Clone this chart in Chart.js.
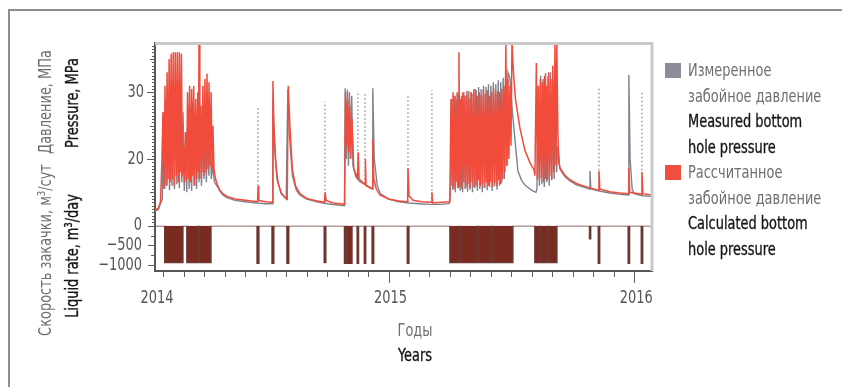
<!DOCTYPE html>
<html lang="ru">
<head>
<meta charset="utf-8">
<title>Забойное давление и скорость закачки</title>
<script src="https://cdn.jsdelivr.net/npm/chart.js@4.4.1/dist/chart.umd.min.js"></script>
<style>
  html, body { margin: 0; padding: 0; background: #fff; }
  #wrap { position: relative; width: 842px; height: 387px; overflow: hidden;
          font-family: "DejaVu Sans Condensed", "Liberation Sans Narrow", sans-serif; }
  #frame { position: absolute; left: 8px; top: 9px; width: 900px; height: 500px;
           border-top: 2px solid #8e8e8e; border-left: 2px solid #8e8e8e; }
  canvas { position: absolute; left: 0; top: 0; }
  .title { position: absolute; white-space: nowrap; font-size: 18px; line-height: 20px;
           transform: translate(-50%, -50%) scaleX(0.8); }
  .rot { transform: translate(-50%, -50%) rotate(-90deg) scaleX(0.8); }
  .ru { color: #6f6f6f; }
  .en { color: #161616; -webkit-text-stroke: 0.35px #161616; }
  #legend { position: absolute; left: 688px; top: 57px; font-size: 18px; line-height: 25.5px;
            white-space: nowrap; transform: scaleX(0.8); transform-origin: 0 0; }
  .swatch { position: absolute; left: 665px; width: 16px; height: 15px; }
</style>
</head>
<body>
<div id="wrap">
  <div id="frame"></div>
  <canvas id="chart" width="842" height="387"></canvas>
  <div class="title rot ru" style="left:45px; top:102px">Давление, МПа</div>
  <div class="title rot en" style="left:72px; top:103px">Pressure, MPa</div>
  <div class="title rot ru" style="left:45px; top:250px">Скорость закачки, м³/сут</div>
  <div class="title rot en" style="left:72px; top:256px">Liquid rate, m³/day</div>
  <div class="title ru" style="left:415px; top:330px">Годы</div>
  <div class="title en" style="left:415px; top:355px">Years</div>
  <div class="swatch" style="top:63px; background:#8b8c97"></div>
  <div class="swatch" style="top:165px; background:#f04f3f"></div>
  <div id="legend">
    <div class="ru">Измеренное</div>
    <div class="ru">забойное давление</div>
    <div class="en">Measured bottom</div>
    <div class="en">hole pressure</div>
    <div class="ru">Рассчитанное</div>
    <div class="ru">забойное давление</div>
    <div class="en">Calculated bottom</div>
    <div class="en">hole pressure</div>
  </div>
</div>
<script>
// time is in months since 1 Jan 2014
const xStart = 0.59;
const xEnd = 24.87;

const monthTicks = [1, 2, 3, 4, 5, 6, 7, 8, 9, 10, 11, 12, 13, 14, 15, 16, 17, 18, 19, 20, 21, 22, 23, 24];
const yearTicks = [xStart, 12, 24];
const yearLabels = ['2014', '2015', '2016'];
const pressureLabels = [20, 30];
const rateTicks = [0, -250, -500, -750, -1000];
const rateLabels = [0, -500, -1000];

// calculated bottom hole pressure, MPa  [month, value]
const calcSeries = [
  [0.59, 12.4], [0.75, 12.6], [0.86, 13.6], [0.93, 20],
  [0.98, 27], [1.03, 15.5], [1.08, 31], [1.13, 16], [1.18, 33], [1.23, 17], [1.28, 35], [1.33, 16.5],
  [1.38, 35.8], [1.43, 17], [1.48, 36], [1.53, 16], [1.58, 36], [1.63, 17.5], [1.68, 36], [1.73, 16.5],
  [1.78, 36], [1.83, 18], [1.88, 35.8], [1.93, 17.5], [1.98, 22], [2.03, 16.5], [2.08, 24], [2.13, 16.8],
  [2.18, 30], [2.23, 17], [2.28, 31], [2.33, 16.5], [2.38, 30.5], [2.43, 17.5], [2.48, 31], [2.53, 16],
  [2.58, 29], [2.63, 17], [2.68, 30], [2.71, 18], [2.74, 37.5], [2.78, 17], [2.83, 28], [2.88, 18],
  [2.93, 31], [2.98, 17.5], [3.03, 32], [3.08, 18], [3.13, 32.8], [3.18, 18.5], [3.23, 31.5], [3.28, 19],
  [3.33, 30], [3.38, 18.5], [3.42, 25], [3.47, 18.5], [3.55, 17], [3.65, 16], [3.76, 15.3], [3.9, 14.8],
  [4.1, 14.4], [4.5, 14.0], [5.0, 13.8], [5.6, 13.6], [5.63, 16], [5.66, 13.8], [6.0, 13.6], [6.32, 13.5],
  [6.35, 31.7], [6.4, 25], [6.5, 19], [6.6, 16.5], [6.75, 15], [6.95, 14.2], [7.05, 14.0], [7.1, 31],
  [7.18, 25], [7.3, 18.5], [7.45, 16], [7.67, 14.8], [8.0, 14.1], [8.5, 13.7], [8.87, 13.5], [8.9, 15],
  [8.95, 13.8], [9.3, 13.4], [9.85, 13.2], [9.9, 30], [9.95, 22], [10.0, 29], [10.05, 21], [10.1, 28],
  [10.15, 20], [10.21, 26], [10.3, 18.5], [10.48, 17.2], [10.52, 21], [10.56, 17], [10.85, 16.2], [10.87, 20],
  [10.9, 16], [11.2, 15.5], [11.23, 23], [11.28, 17], [11.4, 15.5], [11.58, 14.6], [12.0, 14.0], [12.5, 13.7],
  [12.93, 13.6], [12.95, 18.6], [13.0, 14.5], [13.2, 13.8], [13.6, 13.6], [14.1, 13.5], [14.12, 15], [14.15, 13.4],
  [14.6, 13.5], [14.97, 13.6],
  [15.00, 15.5], [15.05, 29], [15.10, 16], [15.15, 30], [15.20, 15.5], [15.25, 29.5], [15.30, 16.5], [15.35, 30],
  [15.40, 15.8], [15.44, 36], [15.48, 16], [15.53, 29], [15.58, 15.5], [15.63, 30], [15.68, 16.5], [15.73, 29.5],
  [15.78, 15.7], [15.83, 30.2], [15.88, 16.2], [15.93, 29], [15.98, 15.6], [16.03, 30], [16.08, 16.5], [16.13, 29.8],
  [16.18, 15.8], [16.23, 30.5], [16.28, 16], [16.33, 29.5], [16.38, 16.8], [16.43, 30], [16.48, 15.9], [16.53, 29.6],
  [16.58, 16.3], [16.63, 30.4], [16.68, 15.7], [16.73, 29.8], [16.78, 16.5], [16.83, 30.3], [16.88, 16], [16.93, 29.5],
  [16.98, 16.6], [17.03, 30], [17.08, 15.8], [17.13, 30.6], [17.18, 16.4], [17.23, 29.9], [17.28, 16], [17.33, 30.2],
  [17.38, 16.8], [17.43, 30], [17.48, 16.2], [17.53, 30.5], [17.58, 17], [17.63, 31], [17.68, 18], [17.73, 37.5],
  [17.78, 19], [17.83, 32], [17.88, 20], [17.93, 31], [17.98, 22], [18.03, 37.5], [18.10, 33], [18.20, 29],
  [18.42, 24.6], [18.66, 21.3], [18.90, 19.5], [19.10, 18.4],
  [19.15, 17.5], [19.22, 34.4], [19.27, 17], [19.32, 31], [19.37, 16.8], [19.42, 32], [19.47, 17.2], [19.52, 31.5],
  [19.57, 16.5], [19.62, 32.5], [19.67, 17], [19.72, 31], [19.77, 16.8], [19.82, 33], [19.87, 17.5], [19.92, 32],
  [19.97, 17], [20.02, 34], [20.07, 18], [20.13, 37.5], [20.18, 19], [20.22, 37.5], [20.27, 24], [20.32, 19.5],
  [20.37, 18.7], [20.6, 17.6], [20.86, 16.9], [21.2, 16.3], [21.6, 15.9], [22.26, 15.3], [22.28, 18.2], [22.32, 15.5],
  [22.8, 15.1], [23.3, 14.9], [23.72, 14.8], [23.74, 18.7], [23.78, 15], [24.36, 14.7], [24.38, 18], [24.42, 14.8],
  [24.87, 14.6]
];

// measured bottom hole pressure, MPa  [month, value]
const measSeries = [
  [0.59, 12.2], [0.75, 12.4], [0.88, 13.5], [0.95, 14],
  [1.0, 27], [1.06, 15.5], [1.12, 29], [1.18, 16], [1.24, 29.5], [1.30, 15.3], [1.36, 29], [1.42, 16],
  [1.48, 28.5], [1.54, 15.5], [1.60, 29], [1.66, 16.2], [1.72, 28], [1.78, 15.6], [1.84, 28.5], [1.90, 16.5],
  [1.96, 27], [2.02, 15.2], [2.08, 24], [2.14, 15], [2.20, 28], [2.26, 15.5], [2.32, 27.5], [2.38, 15.2],
  [2.44, 28.5], [2.50, 16], [2.56, 27], [2.62, 15.5], [2.68, 28], [2.74, 16.5], [2.80, 26], [2.86, 16],
  [2.92, 25.5], [2.98, 17], [3.04, 26], [3.10, 16.5], [3.16, 25], [3.22, 17.5], [3.28, 25.5], [3.34, 17],
  [3.40, 19], [3.50, 16.5], [3.65, 15.8], [3.76, 15.2], [3.90, 14.6], [4.10, 14.2], [4.50, 13.8], [5.00, 13.6],
  [5.58, 13.4], [6.00, 13.3], [6.32, 13.3], [6.35, 29], [6.42, 22], [6.55, 17], [6.75, 14.8], [7.00, 14.0],
  [7.08, 30.5], [7.15, 24], [7.30, 17.5], [7.50, 15.3], [7.67, 14.6], [8.00, 14.0], [8.50, 13.6], [9.00, 13.3],
  [9.50, 13.1], [9.85, 13.0], [9.88, 30.6], [9.94, 20], [9.99, 30.4], [10.04, 19], [10.09, 30], [10.14, 20],
  [10.20, 29.5], [10.26, 19], [10.40, 17.3], [10.60, 16.6], [10.90, 16.1], [11.20, 15.6], [11.23, 30.6], [11.30, 20],
  [11.45, 16], [11.60, 14.8], [12.00, 14.0], [12.50, 13.6], [13.00, 13.4], [13.50, 13.3], [14.00, 13.2], [14.50, 13.2],
  [14.96, 13.3],
  [15.02, 15], [15.08, 29], [15.14, 15.3], [15.20, 29.5], [15.26, 15], [15.32, 28.8], [15.38, 15.6], [15.44, 29.8],
  [15.50, 15.2], [15.56, 29.5], [15.62, 15], [15.68, 30], [15.74, 15.5], [15.80, 29.6], [15.86, 15.1], [15.92, 30.2],
  [15.98, 15.4], [16.04, 30], [16.10, 15], [16.16, 30.5], [16.22, 15.6], [16.28, 30.3], [16.34, 15.2], [16.40, 30.8],
  [16.46, 15.5], [16.52, 30.5], [16.58, 15], [16.64, 31], [16.70, 15.6], [16.76, 30.8], [16.82, 15.3], [16.88, 31.2],
  [16.94, 15.8], [17.00, 31], [17.06, 15.2], [17.12, 31.5], [17.18, 15.9], [17.24, 31.2], [17.30, 15.4], [17.36, 31.8],
  [17.42, 16], [17.48, 31.5], [17.54, 16.5], [17.60, 32.2], [17.66, 17], [17.72, 32.5], [17.78, 19], [17.83, 33],
  [17.93, 32.1], [18.05, 27], [18.17, 23.1], [18.32, 18.2], [18.50, 16.8], [18.66, 16.1], [19.00, 15.3], [19.20, 15.0],
  [19.25, 15.5], [19.31, 31], [19.37, 16], [19.43, 32.5], [19.49, 16.2], [19.55, 32], [19.61, 15.8], [19.67, 32.9],
  [19.73, 16.5], [19.79, 32.4], [19.85, 16], [19.91, 33], [19.97, 16.8], [20.03, 32], [20.09, 17], [20.15, 31],
  [20.21, 18], [20.27, 22], [20.37, 18.5], [20.60, 17.4], [20.86, 16.7], [21.20, 16.1], [21.60, 15.7], [21.82, 15.5],
  [21.84, 18.2], [21.88, 15.5], [22.30, 15.2], [22.80, 14.9], [23.30, 14.7], [23.72, 14.6], [23.74, 32.6], [23.80, 20],
  [23.90, 15.5], [24.00, 14.8], [24.40, 14.5], [24.87, 14.4]
];

// sparse (dotted) gauge readings during short tests
const spikeTime = [5.62, 8.89, 10.5, 10.85, 12.95, 14.12, 22.28, 24.38];
const spikeLow = [13.6, 13.5, 17, 16.3, 13.6, 13.4, 15.3, 14.7];
const spikeHigh = [28, 28.6, 30, 29.8, 29.6, 30.3, 30.6, 30];

// injection periods: start, end (months), rate m3/day
const injStart = [1.07, 2.15, 2.76, 5.58, 6.31, 7.04, 8.86, 9.85, 9.99, 10.47, 10.82, 11.2,
                  12.92, 15.0, 15.52, 16.4, 17.08, 19.15, 19.43, 19.81, 21.82, 22.25, 23.71, 24.35];
const injEnd = [1.95, 2.70, 3.32, 5.66, 6.39, 7.12, 8.93, 9.95, 10.21, 10.53, 10.88, 11.27,
                12.99, 15.46, 16.34, 17.02, 18.07, 19.37, 19.75, 20.22, 21.87, 22.31, 23.77, 24.41];
const injRate = [-930, -930, -930, -950, -950, -950, -930, -950, -950, -950, -950, -950,
                 -950, -930, -930, -930, -930, -930, -930, -930, -330, -950, -950, -950];

const LABEL_FONT = '18px "DejaVu Sans Condensed", "Liberation Sans Narrow", sans-serif';

const toXY = rows => rows.map(r => ({ x: r[0], y: r[1] }));

const spikeData = [];
spikeTime.forEach((t, i) => {
  spikeData.push({ x: t, y: spikeLow[i] }, { x: t, y: spikeHigh[i] }, { x: t, y: null });
});

const rateData = [{ x: xStart, y: 0 }];
injStart.forEach((s, i) => {
  rateData.push({ x: s, y: 0 }, { x: s, y: injRate[i] }, { x: injEnd[i], y: injRate[i] }, { x: injEnd[i], y: 0 });
});
rateData.push({ x: xEnd, y: 0 });

// condensed label, the narrow print face is not installed
function drawLabel(ctx, text, x, y, align) {
  ctx.save();
  ctx.translate(x, y);
  ctx.scale(0.8, 1);
  ctx.textAlign = align;
  ctx.textBaseline = 'middle';
  ctx.fillText(text, 0, 0);
  ctx.restore();
}

// tick marks of different lengths and tick labels
const axisMarks = {
  id: 'axisMarks',
  afterDraw(chart) {
    const { ctx, chartArea: a, scales } = chart;
    const p = scales.pressure, r = scales.rate, x = scales.x;
    ctx.save();
    ctx.strokeStyle = '#5c5c5c';
    ctx.lineWidth = 1;
    ctx.beginPath();
    for (let v = 10.5; v <= 37; v += 0.5) {
      const y = Math.round(p.getPixelForValue(v)) + 0.5;
      const len = v % 10 === 0 ? 8 : (v % 5 === 0 ? 5 : 3);
      ctx.moveTo(a.left - len, y);
      ctx.lineTo(a.left, y);
    }
    rateTicks.forEach(v => {
      const y = Math.round(r.getPixelForValue(v)) + 0.5;
      const len = v % 500 === 0 ? 7 : 4;
      ctx.moveTo(a.left - len, y);
      ctx.lineTo(a.left, y);
    });
    monthTicks.forEach(v => {
      const px = Math.round(x.getPixelForValue(v)) + 0.5;
      const len = v % 12 === 0 ? 12 : 6;
      ctx.moveTo(px, a.bottom);
      ctx.lineTo(px, a.bottom + len);
    });
    ctx.stroke();

    ctx.fillStyle = '#555';
    ctx.font = LABEL_FONT;
    pressureLabels.forEach(v => drawLabel(ctx, String(v), a.left - 11, p.getPixelForValue(v), 'right'));
    rateLabels.forEach(v => drawLabel(ctx, String(v).replace('-', '\u2212'), a.left - 13, r.getPixelForValue(v), 'right'));
    yearTicks.forEach((v, i) => drawLabel(ctx, yearLabels[i], x.getPixelForValue(v) + 2, a.bottom + 27, 'center'));
    ctx.restore();
  }
};

// light frame on top and right of the plot
const plotFrame = {
  id: 'plotFrame',
  afterDatasetsDraw(chart) {
    const { ctx, chartArea: a } = chart;
    ctx.save();
    ctx.strokeStyle = '#c9c9c9';
    ctx.lineWidth = 3;
    ctx.beginPath();
    ctx.moveTo(a.left, a.top + 0.5);
    ctx.lineTo(a.right, a.top + 0.5);
    ctx.lineTo(a.right, a.bottom);
    ctx.stroke();
    ctx.restore();
  }
};

const axisBase = {
  grid: { display: false, drawTicks: false },
  border: { display: true, color: '#585858', width: 2 },
  ticks: { display: false }
};

new Chart(document.getElementById('chart'), {
  type: 'line',
  data: {
    datasets: [
      { label: 'Рассчитанное забойное давление', data: toXY(calcSeries), yAxisID: 'pressure',
        borderColor: '#f04b3b', borderWidth: 1.5, order: 1 },
      { label: 'Измеренное забойное давление', data: toXY(measSeries), yAxisID: 'pressure',
        borderColor: '#7e838e', borderWidth: 1.4, order: 2 },
      { label: 'Измеренное (замеры)', data: spikeData, yAxisID: 'pressure', spanGaps: false,
        borderColor: '#8a8d96', borderWidth: 1.3, borderDash: [1.5, 2.5], order: 3 },
      { label: 'Скорость закачки', data: rateData, yAxisID: 'rate', fill: 'origin',
        borderColor: '#6e3630', backgroundColor: '#7b2a20', borderWidth: 1.6, order: 4 }
    ]
  },
  options: {
    responsive: false,
    animation: false,
    devicePixelRatio: 1,
    layout: { padding: { left: 95, right: 190, top: 43, bottom: 86 } },
    elements: { point: { radius: 0 }, line: { tension: 0 } },
    plugins: { legend: { display: false }, tooltip: { enabled: false } },
    scales: {
      x: { ...axisBase, type: 'linear', min: xStart, max: xEnd,
           afterFit: s => { s.height = 30; } },
      rate: { ...axisBase, type: 'linear', position: 'left', stack: 'left', stackWeight: 45.3, weight: 1,
              min: -1150, max: 0, afterFit: s => { s.width = 60; } },
      pressure: { ...axisBase, type: 'linear', position: 'left', stack: 'left', stackWeight: 182.7, weight: 2,
                  min: 10, max: 37.4, afterFit: s => { s.width = 60; } }
    }
  },
  plugins: [axisMarks, plotFrame]
});
</script>
</body>
</html>
